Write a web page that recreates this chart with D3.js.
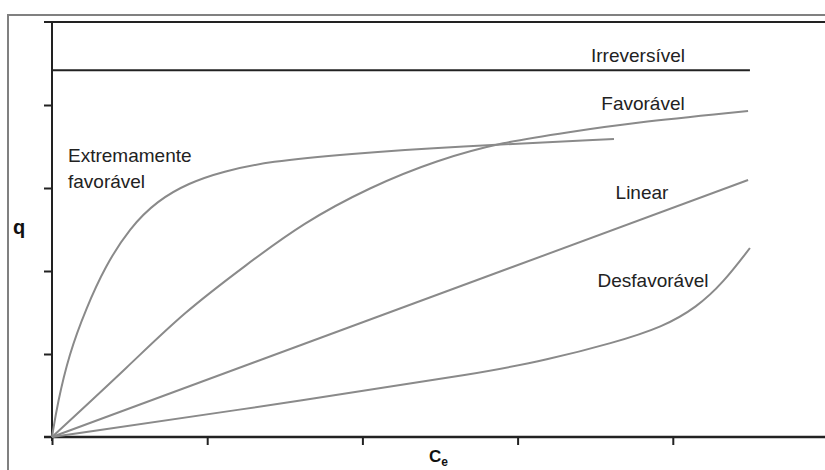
<!DOCTYPE html>
<html><head><meta charset="utf-8">
<script src="https://cdn.jsdelivr.net/npm/d3@7"></script>
<style>body{margin:0;background:#fff}svg{display:block}text{font-family:"Liberation Sans",Arial,sans-serif}</style>
</head><body><svg id="c" width="825" height="470"></svg>
<script>
// Data (arbitrary units)
const xTicks = [0, 1, 2, 3, 4];
const yTicks = [1, 2, 3, 4];
const irreversivelX = [0, 4.497];
const irreversivelY = [4.42, 4.42];
const extremamenteX = [0, 0.035, 0.110, 0.220, 0.341, 0.500, 0.680, 0.880, 1.100, 1.400, 1.900, 2.600, 3.621];
const extremamenteY = [0, 0.400, 1.000, 1.550, 2.050, 2.520, 2.850, 3.060, 3.200, 3.320, 3.410, 3.500, 3.590];
const favoravelX = [0, 0.503, 0.844, 1.256, 1.617, 2.049, 2.481, 2.906, 3.338, 3.724, 4.485];
const favoravelY = [0, 0.870, 1.494, 2.080, 2.578, 3.012, 3.337, 3.554, 3.675, 3.783, 3.928];
const linearX = [0, 4.485];
const linearY = [0, 3.096];
const desfavoravelX = [0, 1.727, 2.758, 3.189, 3.615, 3.937, 4.156, 4.323, 4.497];
const desfavoravelY = [0, 0.470, 0.771, 0.928, 1.133, 1.325, 1.566, 1.855, 2.277];
const labels = ["Irreversível", "Favorável", "Linear", "Desfavorável"];

const svg = d3.select("#c");
const x = d3.scaleLinear().domain([0, 5]).range([52, 828]);
const y = d3.scaleLinear().domain([0, 5]).range([437, 22]);

// outer frame
svg.append("path").attr("d", "M8,470V15H825").attr("fill", "none").attr("stroke", "#808080").attr("stroke-width", 2);
// top frame line
svg.append("line").attr("x1", 44).attr("x2", 825).attr("y1", y(5)).attr("y2", y(5)).attr("stroke", "#222").attr("stroke-width", 2);

// axes
const gx = svg.append("g").attr("transform", `translate(0,${y(0)})`)
  .call(d3.axisBottom(x).tickValues(xTicks).tickSize(8).tickFormat(""));
gx.select(".domain").remove();
gx.selectAll(".tick line").attr("stroke", "#222").attr("stroke-width", 2);
const gy = svg.append("g").attr("transform", `translate(${x(0)},0)`)
  .call(d3.axisLeft(y).tickValues(yTicks).tickSize(8).tickFormat(""));
gy.select(".domain").remove();
gy.selectAll(".tick line").attr("stroke", "#222").attr("stroke-width", 2);
svg.append("line").attr("x1", 44).attr("x2", 825).attr("y1", y(0)).attr("y2", y(0)).attr("stroke", "#222").attr("stroke-width", 2.5);
svg.append("line").attr("x1", x(0)).attr("x2", x(0)).attr("y1", y(5)).attr("y2", y(0) + 4).attr("stroke", "#222").attr("stroke-width", 2);

const smooth = d3.line().x(d => x(d[0])).y(d => y(d[1])).curve(d3.curveBasis);
const zip = (a, b) => a.map((v, i) => [v, b[i]]);

const series = [
  {d: zip(extremamenteX, extremamenteY), c: "#8a8a8a"},
  {d: zip(favoravelX, favoravelY), c: "#8a8a8a"},
  {d: zip(linearX, linearY), c: "#8a8a8a"},
  {d: zip(desfavoravelX, desfavoravelY), c: "#8a8a8a"},
  {d: zip(irreversivelX, irreversivelY), c: "#222"}
];
svg.selectAll("path.s").data(series).join("path").attr("class", "s")
  .attr("d", s => smooth(s.d)).attr("fill", "none").attr("stroke", s => s.c).attr("stroke-width", 2);

// labels
const fs = 19;
const lab = [
  {t: labels[0], x: 638, y: 62},
  {t: labels[1], x: 643, y: 110},
  {t: labels[2], x: 642, y: 199},
  {t: labels[3], x: 653, y: 287}
];
svg.selectAll("text.l").data(lab).join("text").attr("class", "l")
  .attr("x", d => d.x).attr("y", d => d.y).attr("text-anchor", "middle")
  .attr("font-size", fs).attr("fill", "#222").text(d => d.t);
svg.append("text").attr("x", 68).attr("y", 162).attr("font-size", fs).attr("fill", "#222").text("Extremamente");
svg.append("text").attr("x", 68).attr("y", 188).attr("font-size", fs).attr("fill", "#222").text("favorável");

// axis titles
svg.append("text").attr("x", 13).attr("y", 234).attr("font-size", 20).attr("font-weight", "bold").attr("fill", "#111").text("q");
const ce = svg.append("text").attr("x", 429).attr("y", 462).attr("font-size", 17).attr("font-weight", "bold").attr("fill", "#111");
ce.append("tspan").text("C");
ce.append("tspan").attr("font-size", 12).attr("dy", 4).text("e");
</script></body></html>
